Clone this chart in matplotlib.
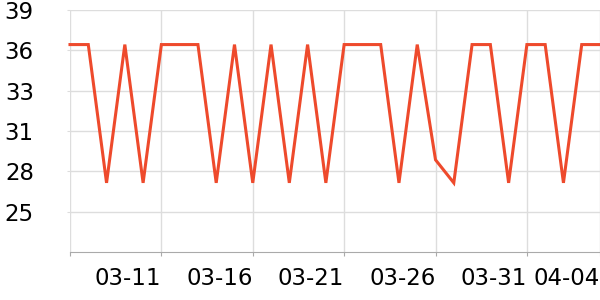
import matplotlib
matplotlib.use("Agg")
import matplotlib.pyplot as plt

dates = ["03-06","03-07","03-08","03-09","03-10","03-11","03-12","03-13","03-14","03-15",
         "03-16","03-17","03-18","03-19","03-20","03-21","03-22","03-23","03-24","03-25",
         "03-26","03-27","03-28","03-29","03-30","03-31","04-01","04-02","04-03","04-04"]
H, L = 36.6, 27.0
values = [H, H, L, H, L, H, H, H, L, H,
          L, H, L, H, L, H, H, H, L, H,
          28.6, L, H, H, L, H, H, L, H, H]
ytick_vals = [25.0, 27.8, 30.6, 33.4, 36.2, 39.0]
ytick_labels = ["25", "28", "31", "33", "36", "39"]
xtick_idx = [0, 5, 10, 15, 20, 25, 29]
xtick_labels = ["", "03-11", "03-16", "03-21", "03-26", "03-31", "04-04"]

fig = plt.figure(figsize=(6, 3), dpi=100)
ax = fig.add_axes([70/600, 1-252/300, 530/600, 242/300])
x = list(range(len(values)))
ax.plot(x, values, color="#EE4A2C", lw=2.2, solid_joinstyle="miter", clip_on=False, zorder=3)
ax.set_xlim(0, len(values)-1)
ax.set_ylim(22.2, 39.0)
ax.set_yticks(ytick_vals)
ax.set_yticklabels(ytick_labels)
ax.set_xticks(xtick_idx)
ax.set_xticklabels(xtick_labels, ha="right")
ax.grid(True, color="#dddddd", lw=1)
ax.set_axisbelow(True)
for s in ["top", "right", "left"]:
    ax.spines[s].set_visible(False)
ax.spines["bottom"].set_color("#aaaaaa")
ax.tick_params(axis="y", length=2, color="#dddddd", pad=24, labelsize=16.5)
ax.tick_params(axis="x", length=3, color="#aaaaaa", pad=8, labelsize=16.5)
fig.savefig("out.png", dpi=100)
